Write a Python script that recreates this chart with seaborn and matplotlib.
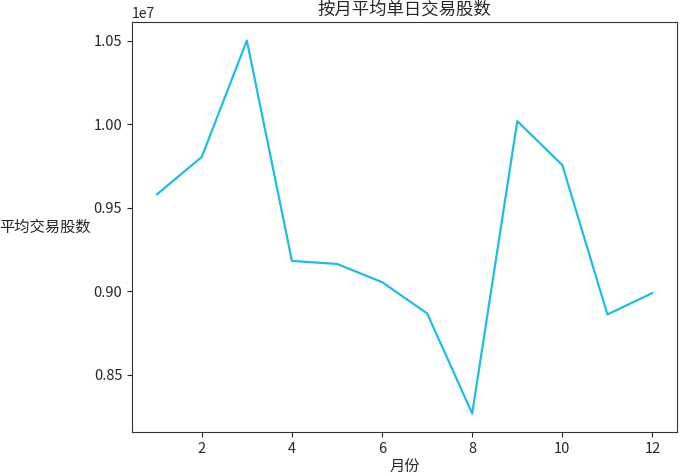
import matplotlib
matplotlib.use("Agg")
import matplotlib.pyplot as plt
import pandas as pd
import seaborn as sns

months = [1, 2, 3, 4, 5, 6, 7, 8, 9, 10, 11, 12]
avg_volume = [9.579e6, 9.804e6, 10.50e6, 9.182e6, 9.164e6, 9.055e6,
              8.868e6, 8.269e6, 10.018e6, 9.755e6, 8.862e6, 8.990e6]

df = pd.DataFrame({"月份": months, "平均交易股数": avg_volume})

sns.set_style("ticks")
plt.rcParams["font.family"] = ["Noto Sans CJK SC", "DejaVu Sans"]
plt.rcParams["axes.unicode_minus"] = False

fig, ax = plt.subplots(figsize=(6.8, 4.76), dpi=100)
sns.lineplot(data=df, x="月份", y="平均交易股数", color="#1ebde8", linewidth=1.6, ax=ax)

ax.set_title("按月平均单日交易股数", fontsize=12.5, pad=5)
ax.set_xlabel("月份", fontsize=11, labelpad=2)
ax.set_ylabel("平均交易股数", fontsize=11, rotation=0, ha="center", va="center")
ax.yaxis.set_label_coords(-0.16, 0.5)
ax.tick_params(labelsize=10.5)
for s in ax.spines.values():
    s.set_color("#333333")

fig.subplots_adjust(left=0.194, right=0.996, top=0.954, bottom=0.092)
fig.savefig("out.png", dpi=100)
